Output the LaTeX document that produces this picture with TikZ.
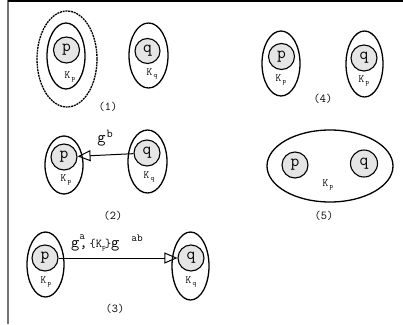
\documentclass[tikz,border=0pt]{standalone}
\usetikzlibrary{shapes.geometric,arrows.meta}
% key label: K with a lowered, spaced index
\newcommand\keyof[1]{K\hspace{1.2pt}\raisebox{-2.5pt}{\fontsize{7}{7}\selectfont #1}}
\begin{document}
\begin{tikzpicture}[x=1pt,y=-1pt,font=\ttfamily,
  agent/.style={circle,draw,fill=black!10,line width=1.1pt,minimum size=26pt,inner sep=0pt,
    font=\ttfamily\fontsize{17}{17}\selectfont},
  realm/.style={ellipse,draw,line width=1.3pt,inner sep=0pt},
  keylab/.style={font=\ttfamily\fontsize{11}{11}\selectfont,inner sep=0pt},
  caption/.style={font=\ttfamily\fontsize{12}{12}\selectfont,inner sep=0pt},
  msglab/.style={font=\ttfamily\fontsize{16}{16}\selectfont,inner sep=0pt},
  msg/.style={line width=1pt,-{Triangle[open,length=13pt,width=11pt,line width=1pt]}}]
\useasboundingbox (0,0) rectangle (403,324);
% frame edges
\draw[line width=2pt,black!55] (8,0) -- (8,324);
\draw[line width=1.5pt] (8,1) -- (403,1);

% (1)
\node[realm,dash pattern=on 2pt off 0.8pt,minimum width=60pt,minimum height=96pt] (o1) at (67,59) {};
\node[realm,minimum width=38pt,minimum height=66pt] (e1p) at (66,56) {};
\node[agent] (p1) at (66.5,50) {p};
\node[keylab] (k1p) at (70,77) {\keyof{p}};
\node[realm,minimum width=39pt,minimum height=65pt] (e1q) at (148.5,55.5) {};
\node[agent,minimum size=25pt] (q1) at (147.5,51) {q};
\node[keylab] (k1q) at (152,74) {\keyof{q}};
\node[caption] (c1) at (108,107) {(1)};

% (4)
\node[realm,minimum width=38pt,minimum height=65pt] (e4p) at (281,63.5) {};
\node[agent] (p4) at (281.5,56.5) {p};
\node[keylab] (k4p) at (281,80) {\keyof{p}};
\node[realm,minimum width=37pt,minimum height=66pt] (e4q) at (364.5,64) {};
\node[agent] (q4) at (364,58) {q};
\node[keylab] (k4q) at (364,81) {\keyof{p}};
\node[caption] (c4) at (323,99) {(4)};

% (2)
\node[realm,minimum width=38pt,minimum height=58pt] (e2p) at (64,165) {};
\node[agent] (p2) at (64,157) {p};
\node[keylab] (k2p) at (66,180) {\keyof{p}};
\node[realm,minimum width=39pt,minimum height=63pt] (e2q) at (147.5,161.5) {};
\node[agent] (q2) at (147,153) {q};
\node[keylab] (k2q) at (149,177) {\keyof{q}};
\draw[msg] (q2) -- (p2);
\node[msglab] (l2) at (105,138) {g\raisebox{5pt}{\fontsize{12}{12}\selectfont\hspace{1pt}b}};
\node[caption] (c2) at (113,216) {(2)};

% (5)
\node[realm,minimum width=126pt,minimum height=72pt] (e5) at (330,166) {};
\node[agent] (p5) at (295,165) {p};
\node[agent,minimum size=27pt] (q5) at (364,163.5) {q};
\node[keylab] (k5) at (328,185) {\keyof{p}};
\node[caption] (c5) at (324,216) {(5)};

% (3)
\node[realm,minimum width=37pt,minimum height=65pt] (e3p) at (45.5,264.5) {};
\node[agent] (p3) at (45,258) {p};
\node[keylab] (k3p) at (46,282) {\keyof{p}};
\node[realm,minimum width=37pt,minimum height=68pt] (e3q) at (190.5,266) {};
\node[agent] (q3) at (191,258) {q};
\node[keylab] (k3q) at (191,282) {\keyof{q}};
\draw[msg] (p3) -- (q3);
\node[msglab,anchor=base west] (l3) at (71,247)
  {g\rlap{\raisebox{8pt}{\fontsize{11}{11}\selectfont a}},{\fontsize{12}{12}\selectfont\hspace{2pt}\{K\rlap{\raisebox{-2pt}{\fontsize{7}{7}\selectfont p}}\hspace{3pt}\}}g\hspace{12pt}\raisebox{6pt}{\fontsize{11}{11}\selectfont ab}};
\node[caption] (c3) at (115,309) {(3)};
\end{tikzpicture}
\end{document}
